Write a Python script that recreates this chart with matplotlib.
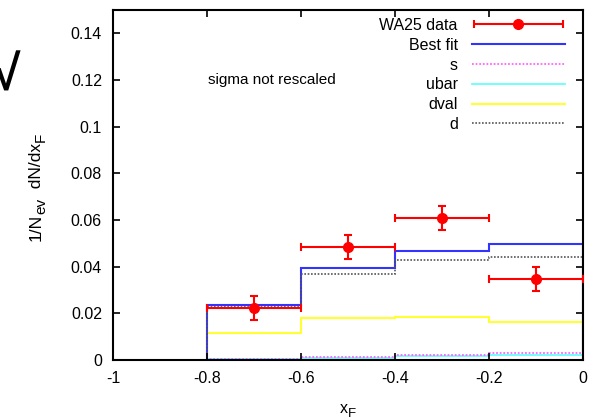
import matplotlib
matplotlib.use('Agg')
import matplotlib.pyplot as plt
from matplotlib.lines import Line2D
from matplotlib.legend_handler import HandlerErrorbar
from matplotlib.transforms import IdentityTransform

plt.rcParams['font.family'] = ['Liberation Sans', 'DejaVu Sans']

# Bin edges in x_F
edges = [-0.8, -0.6, -0.4, -0.2, 0.0]

# WA25 data points
data_x = [-0.7, -0.5, -0.3, -0.1]
data_y = [0.0221, 0.0484, 0.0610, 0.0347]
data_yerr = [0.0051, 0.0051, 0.0051, 0.0051]
data_xerr = [0.1, 0.1, 0.1, 0.1]

# Fit components per bin
best_fit = [0.0237, 0.0392, 0.0468, 0.0498]
s_vals = [0.0004, 0.0011, 0.0020, 0.0028]
ubar_vals = [0.0002, 0.0008, 0.0015, 0.0022]
dval_vals = [0.0117, 0.0180, 0.0184, 0.0164]
d_vals = [0.0228, 0.0368, 0.0428, 0.0443]


def pieced_label(fig, pieces, center, base, vertical):
    # gnuplot-style label: subscripts drawn as separate, fairly large texts
    renderer = fig.canvas.get_renderer()
    H = fig.bbox.height
    texts, lengths = [], []
    for txt, size, shift in pieces:
        if vertical:
            t = fig.text(base + shift, 0, txt, fontsize=size, rotation=90,
                         rotation_mode='anchor', ha='left', va='baseline',
                         transform=IdentityTransform())
            lengths.append(t.get_window_extent(renderer).height)
        else:
            t = fig.text(0, H - base - shift, txt, fontsize=size,
                         ha='left', va='baseline', transform=IdentityTransform())
            lengths.append(t.get_window_extent(renderer).width)
        texts.append(t)
    total = sum(lengths)
    if vertical:
        pos = H - center - total / 2
    else:
        pos = center - total / 2
    for t, ln in zip(texts, lengths):
        x, y = t.get_position()
        if vertical:
            t.set_position((x, pos))
        else:
            t.set_position((pos, y))
        pos += ln


fig = plt.figure(figsize=(5.92, 4.19), dpi=100)
ax = fig.add_axes([0.191, 0.141, 0.794, 0.835])

ax.stairs(ubar_vals, edges, baseline=0, color='#66ffff', lw=1.3)
ax.stairs(s_vals, edges, baseline=0, color='#ff66ff', lw=1.3, linestyle=(0, (1, 1)))
ax.stairs(dval_vals, edges, baseline=0, color='#ffff33', lw=1.5)
ax.stairs(best_fit, edges, baseline=0, color='#3333ff', lw=1.5)
ax.stairs(d_vals, edges, baseline=0, color='#555555', lw=1.2, linestyle=(0, (1, 1)))

ax.errorbar(data_x, data_y, xerr=data_xerr, yerr=data_yerr, fmt='o', color='red',
            ms=7, lw=1.5, capsize=3, capthick=1.5, zorder=5)

ax.set_xlim(-1, 0)
ax.set_ylim(0, 0.15)
ax.set_xticks([-1, -0.8, -0.6, -0.4, -0.2, 0])
ax.set_xticklabels(['-1', '-0.8', '-0.6', '-0.4', '-0.2', '0'])
ax.set_yticks([0, 0.02, 0.04, 0.06, 0.08, 0.1, 0.12, 0.14])
ax.set_yticklabels(['0', '0.02', '0.04', '0.06', '0.08', '0.1', '0.12', '0.14'])
ax.tick_params(direction='in', top=True, right=True, length=5, width=1.2,
               labelsize=11.5, pad=8)
for sp in ax.spines.values():
    sp.set_linewidth(1.5)

ax.text(0.338, 0.80, 'sigma not rescaled', transform=ax.transAxes,
        ha='center', va='center', fontsize=11)

# Legend proxies
proxy_data = ax.errorbar([float('nan')], [float('nan')], xerr=[0.1], fmt='o',
                         color='red', ms=7, lw=1.5, capsize=3, capthick=1.5)
handles = [
    proxy_data,
    Line2D([], [], color='#3333ff', lw=1.5),
    Line2D([], [], color='#ff66ff', lw=1.3, linestyle=(0, (1, 1))),
    Line2D([], [], color='#66ffff', lw=1.3),
    Line2D([], [], color='#ffff33', lw=1.5),
    Line2D([], [], color='#555555', lw=1.2, linestyle=(0, (1, 1))),
]
labels = ['WA25 data', 'Best fit', 's', 'ubar', 'dval', 'd']
ax.legend(handles, labels, loc='upper right', frameon=False, markerfirst=False,
          fontsize=11.5, handlelength=5.8, labelspacing=0.3, handletextpad=0.9,
          borderaxespad=0.1, bbox_to_anchor=(0.978, 1.0),
          handler_map={type(proxy_data): HandlerErrorbar(xerr_size=2.8)})

# axis labels with large gnuplot-style subscripts
pieced_label(fig, [('1/N', 12.5, 0), ('ev', 11, 4), ('  dN/dx', 12.5, 0), ('F', 11, 4)],
             center=187, base=41, vertical=True)
pieced_label(fig, [('x', 11.5, 0), ('F', 9.5, 4)],
             center=348, base=413, vertical=False)

fig.text(-0.012, 0.815, '\u221a', fontsize=36, fontweight='bold',
         ha='left', va='center')

fig.savefig('out.png', dpi=100)
